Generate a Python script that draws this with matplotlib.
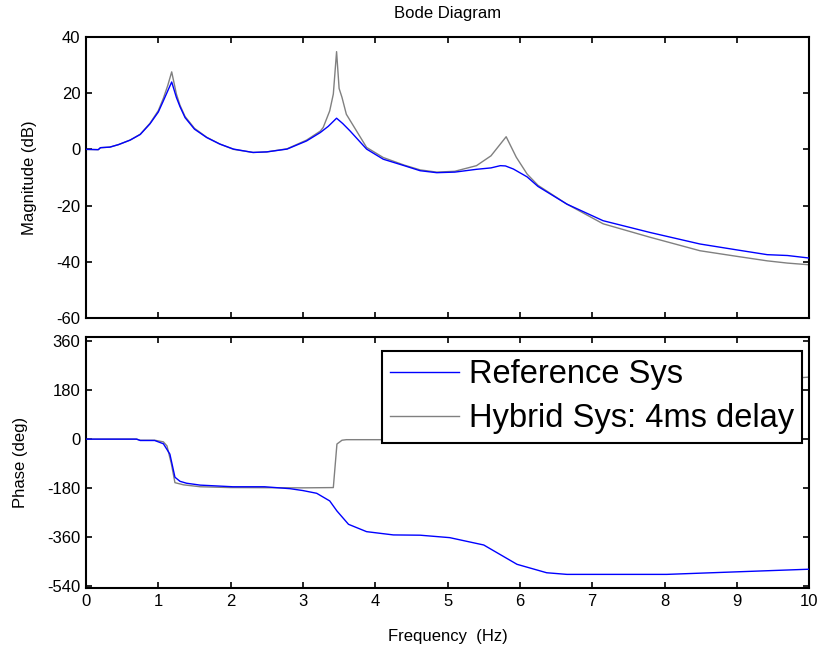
import matplotlib
matplotlib.use("Agg")
import matplotlib.pyplot as plt

plt.rcParams['font.family'] = ['Liberation Sans', 'DejaVu Sans']
plt.rcParams['axes.unicode_minus'] = False

# magnitude (dB) vs frequency (Hz)
ref_mag_f = [0, 0.17, 0.2, 0.33, 0.45, 0.61, 0.75, 0.885, 1.0, 1.07, 1.13, 1.185,
             1.25, 1.3, 1.37, 1.5, 1.67, 1.85, 2.04, 2.31, 2.5, 2.78, 3.05, 3.24,
             3.35, 3.465, 3.55, 3.65, 3.88, 4.11, 4.4, 4.62, 4.85, 5.1, 5.4, 5.6,
             5.73, 5.8, 5.91, 6.1, 6.25, 6.65, 7.15, 7.8, 8.49, 9.0, 9.42, 9.7, 10]
ref_mag = [0, -0.1, 0.6, 0.8, 1.7, 3.3, 5.3, 9.1, 13.3, 17.3, 20.8, 24.0,
           18.5, 15.2, 11.3, 7.2, 4.2, 1.9, 0.1, -1.1, -0.9, 0.1, 3.0, 6.0,
           8.2, 11.1, 9.2, 6.6, 0.1, -3.5, -5.8, -7.6, -8.3, -8.1, -7.1, -6.6,
           -5.8, -5.9, -7.0, -9.8, -13.2, -19.5, -25.4, -29.6, -33.7, -35.8, -37.5, -37.8, -38.7]

hyb_mag_f = [0, 0.17, 0.2, 0.33, 0.45, 0.61, 0.75, 0.885, 1.0, 1.07, 1.13, 1.185,
             1.25, 1.3, 1.37, 1.5, 1.67, 1.85, 2.04, 2.31, 2.5, 2.78, 3.05, 3.24,
             3.28, 3.37, 3.42, 3.465, 3.5, 3.54, 3.6, 3.74, 3.88, 4.11, 4.4, 4.62,
             4.85, 5.1, 5.4, 5.6, 5.81, 5.95, 6.1, 6.25, 6.65, 7.15, 7.8, 8.49,
             9.0, 9.42, 9.7, 10]
hyb_mag = [0, -0.1, 0.6, 0.8, 1.7, 3.3, 5.4, 9.3, 13.8, 18.2, 22.7, 27.6,
           19.7, 15.7, 11.7, 7.5, 4.3, 1.9, 0.0, -1.1, -0.9, 0.2, 3.3, 6.5,
           7.8, 13.7, 19.7, 34.8, 21.7, 18.5, 12.5, 6.6, 0.7, -2.9, -5.6, -7.3,
           -8.1, -7.8, -5.8, -2.3, 4.5, -2.8, -8.8, -12.8, -19.5, -26.5, -31.3, -36.1,
           -38.1, -39.7, -40.5, -41.1]

# phase (deg) vs frequency (Hz)
ref_ph_f = [0, 0.7, 0.75, 0.95, 1.07, 1.16, 1.23, 1.3, 1.39, 1.58, 2.03, 2.47,
            2.82, 3.0, 3.19, 3.37, 3.47, 3.63, 3.88, 4.25, 4.62, 5.03, 5.5, 5.96,
            6.37, 6.65, 8.03, 10]
ref_ph = [0, 0, -5, -5, -17, -55, -140, -155, -162, -169, -175, -175,
          -182, -189, -199, -227, -264, -313, -340, -352, -353, -362, -389, -460,
          -491, -497, -497, -478]

hyb_ph_f = [0, 0.7, 0.75, 0.95, 1.07, 1.12, 1.18, 1.23, 1.35, 1.58, 2.0, 3.0,
            3.42, 3.47, 3.54, 3.6, 5.6, 5.75, 5.9, 6.1, 6.6, 8.0, 9.9, 10]
hyb_ph = [0, 0, -4, -4, -10, -25, -90, -160, -168, -175, -178, -179,
          -178, -18, -4, -2, -2, 40, 160, 190, 205, 205, 226, 228]

fig = plt.figure(figsize=(8.19, 6.5), dpi=100)
ax1 = fig.add_axes([0.105, 0.511, 0.883, 0.432])
ax2 = fig.add_axes([0.105, 0.0954, 0.883, 0.386])

blue = '#0000ff'
grey = '#808080'

ax1.plot(ref_mag_f, ref_mag, color=blue, lw=1.0, zorder=3)
ax1.plot(hyb_mag_f, hyb_mag, color=grey, lw=1.0, zorder=2)
ax2.plot(ref_ph_f, ref_ph, color=blue, lw=1.0, label='Reference Sys', zorder=3)
ax2.plot(hyb_ph_f, hyb_ph, color=grey, lw=1.0, label='Hybrid Sys: 4ms delay', zorder=2)

ax1.set_xlim(0, 10)
ax1.set_ylim(-60, 40)
ax1.set_yticks([-60, -40, -20, 0, 20, 40])
ax1.set_xticks(range(0, 11))
ax1.set_xticklabels([])

ax2.set_xlim(0, 10)
ax2.set_ylim(-547, 375)
ax2.set_yticks([-540, -360, -180, 0, 180, 360])
ax2.set_xticks(range(0, 11))

for ax in (ax1, ax2):
    for s in ax.spines.values():
        s.set_linewidth(1.5)
    ax.tick_params(direction='in', top=True, right=True, length=4, width=1.2,
                   labelsize=12, pad=4)

ax1.set_ylabel('Magnitude (dB)', fontsize=12, labelpad=14)
ax2.set_ylabel('Phase (deg)', fontsize=12, labelpad=14)
ax2.set_xlabel('Frequency  (Hz)', fontsize=12, labelpad=15)
ax1.set_title('Bode Diagram', fontsize=12, pad=14)

leg = ax2.legend(loc='upper right', bbox_to_anchor=(0.99, 0.944), borderaxespad=0,
                 fontsize=23.5, fancybox=False, framealpha=1, edgecolor='black',
                 handlelength=2.1, handletextpad=0.3, labelspacing=0.4,
                 borderpad=0.25)
leg.get_frame().set_linewidth(1.5)

fig.savefig('out.png', dpi=100)
